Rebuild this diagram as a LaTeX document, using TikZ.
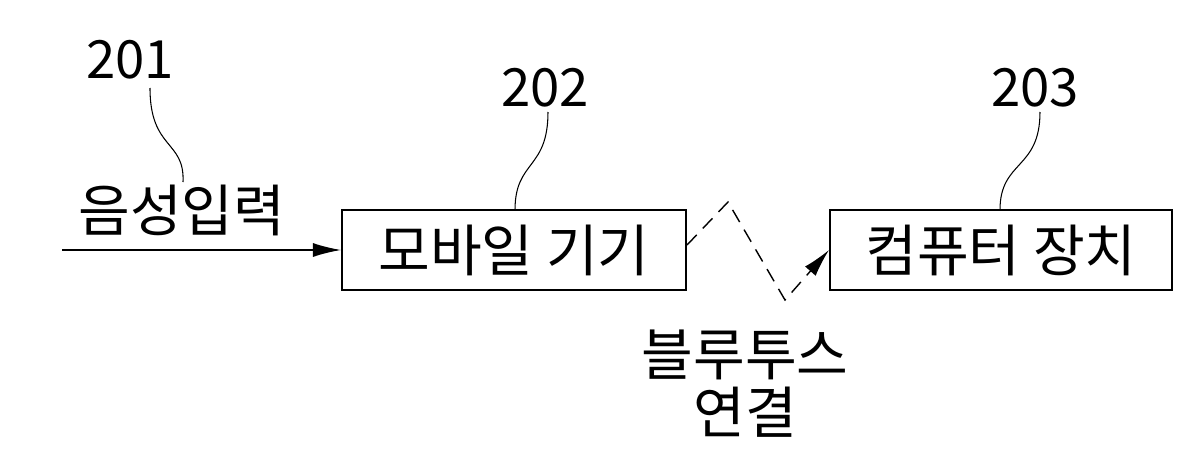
\documentclass[tikz,border=0pt]{standalone}
\usepackage{fontspec}
\setmainfont{Noto Sans CJK KR}
\usetikzlibrary{arrows.meta}
\begin{document}
\begin{tikzpicture}[x=0.02cm,y=-0.02cm,
  box/.style={draw,line width=1.2pt,minimum width=6.88cm,minimum height=1.6cm,inner sep=0pt,font=\fontsize{32}{36}\selectfont},
  lbl/.style={font=\fontsize{32}{36}\selectfont,inner sep=0pt},
  num/.style={font=\fontsize{30}{34}\selectfont,inner sep=0pt},
  lead/.style={line width=0.6pt},
  arr/.style={line width=0.8pt,-{Latex[length=16pt,width=8pt]}}]
\useasboundingbox (0,0) rectangle (1198,470);
\node[box] (b1) at (514,250) {모바일 기기};
\node[box,minimum width=6.84cm] (b2) at (1001,250) {컴퓨터 장치};
\coordinate (in) at (62,250);
\draw[arr] (in) -- (b1.west);
\node[lbl] (t1) at (182,210) {음성입력};
\node[num] (n1) at (130,60) {201};
\node[num] (n2) at (545,88) {202};
\node[num] (n3) at (1035,88) {203};
\draw[lead] (150,88) .. controls (150,150) and (185,140) .. (183,182);
\draw[lead] (548,112) .. controls (548,170) and (515,160) .. (515,210);
\draw[lead] (1040,112) .. controls (1040,170) and (1000,160) .. (1000,210);
\coordinate (z1) at (728,202);
\coordinate (z2) at (785,300);
\draw[arr,dashed,dash pattern=on 8pt off 5pt] (b1.east |- 0,245) -- (z1) -- (z2) -- (b2.west);
\node[lbl] (t2) at (745,355) {블루투스};
\node[lbl] (t3) at (745,412) {연결};
\end{tikzpicture}
\end{document}
